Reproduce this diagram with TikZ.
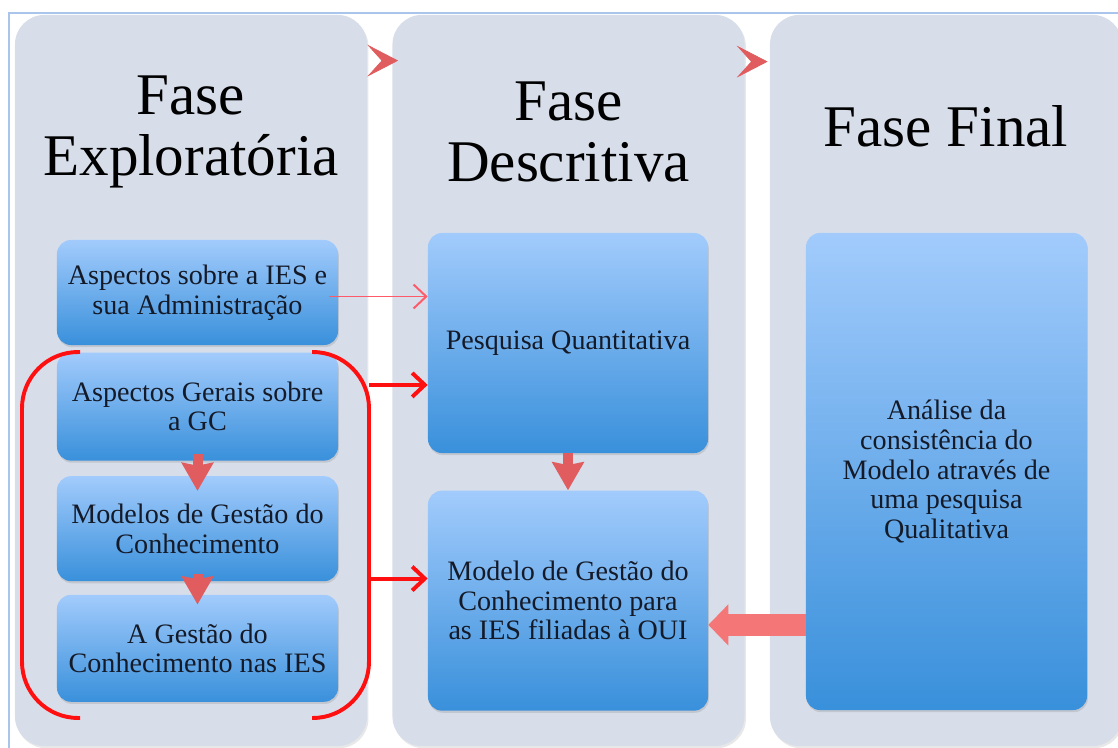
\documentclass[tikz,border=0pt]{standalone}
\usepackage{fontspec}
\setmainfont{Liberation Serif}
\usetikzlibrary{arrows.meta, positioning, calc, shadows}
\definecolor{panelgray}{HTML}{D7DEEA}
\definecolor{boxtop}{HTML}{A2CBFC}
\definecolor{boxbot}{HTML}{3990DB}
\definecolor{frameblue}{HTML}{A9C5EC}
\definecolor{flowred}{HTML}{FF1010}
\definecolor{lightflow}{HTML}{FF5A6A}
\definecolor{softred}{HTML}{E05C5E}
\definecolor{pinkred}{HTML}{F47676}
\definecolor{inktext}{HTML}{141A28}

\begin{document}
\begin{tikzpicture}[x=0.025cm, y=-0.025cm,
  panel/.style={fill=panelgray, rounded corners=21pt, minimum width=8.8cm, minimum height=18.275cm,
                drop shadow={shadow xshift=1pt, shadow yshift=-1.5pt, opacity=0.18}},
  head/.style={font=\fontsize{42}{43.4}\selectfont, align=center},
  box/.style={rounded corners=10pt, top color=boxtop, bottom color=boxbot, align=center, text=inktext,
              font=\fontsize{20}{21}\selectfont, minimum width=7.025cm, inner sep=2pt,
              drop shadow={shadow xshift=0.6pt, shadow yshift=-1.5pt, opacity=0.25}},
  flow/.style={-{Straight Barb[length=9pt, width=17pt]}, line width=2.8pt, draw=flowred},
  thinflow/.style={flow, line width=1.4pt, draw=lightflow},
  bracket/.style={draw=flowred, line width=2.8pt, rounded corners=40pt},
  fat/.style={-{Stealth[length=0.7cm, width=0.78cm, inset=2pt]}, line width=0.25cm, draw=softred},
  chev/.style={-{Stealth[length=0.775cm, width=0.8cm, inset=0.36cm]}, line width=0.5pt, draw=softred},
  bigarrow/.style={-{Triangle[length=0.5cm, width=1.0cm]}, line width=0.55cm, draw=pinkred}]
  \useasboundingbox (0,0) rectangle (1118,748);
  \draw[frameblue, line width=0.8pt] (9,760) -- (9,13) -- (1130,13);

  \node[panel] (explo) at (191,380.5) {};
  \node[panel] (descr) at (568.5,380.5) {};
  \node[panel] (final) at (946,380.5) {};

  \node[head] (explohd) at ($(explo.north)+(0,117)$) {Fase\\Exploratória};
  \node[head] (descrhd) at ($(descr.north)+(0,117)$) {Fase\\Descritiva};
  \node[head] (finalhd) at ($(final.north)+(0,112)$) {Fase Final};

  \node[box, minimum height=2.625cm] (ies) at (197.5,292.5) {Aspectos sobre a IES e\\sua Administração};
  \node[box, minimum height=2.7cm, below=0.175cm of ies] (gerais) {Aspectos Gerais sobre\\a GC};
  \node[box, minimum height=2.625cm, below=0.375cm of gerais] (modelos) {Modelos de Gestão do\\Conhecimento};
  \node[box, minimum height=2.675cm, below=0.325cm of modelos] (nasies) {A Gestão do\\Conhecimento nas IES};
  \node[box, minimum width=7cm, minimum height=5.5cm] (quanti) at (568,343) {Pesquisa Quantitativa};
  \node[box, minimum width=7cm, minimum height=5.5cm, below=0.925cm of quanti] (modelo)
        {Modelo de Gestão do\\Conhecimento para\\as IES filiadas à OUI};
  \node[box, minimum height=11.925cm] (analise) at (946.5,471.5)
        {Análise da\\consistência do\\Modelo através de\\uma pesquisa\\Qualitativa};

  \coordinate (grpnw) at (22,352);
  \coordinate (grpse) at (369,718);
  \draw[bracket] ($(grpnw)+(58,0)$) -- (grpnw) -- (grpnw |- grpse) -- ($(grpnw |- grpse)+(58,0)$);
  \draw[bracket] ($(grpse |- grpnw)+(-57,0)$) -- (grpse |- grpnw) -- (grpse) -- ($(grpse)+(-57,0)$);

  \coordinate (qin) at ($(quanti.south west)!0.31!(quanti.north west)$);
  \coordinate (min) at ($(modelo.south west)!0.6!(modelo.north west)$);
  \coordinate (iesout) at ($(ies.east)+(-9,4)$);
  \coordinate (mfin) at ($(modelo.south east)!0.39!(modelo.north east)$);

  \draw[chev] ($(descr.north west)+(-10,46)$) -- ($(descr.north west)+(6,46)$);
  \draw[chev] ($(final.north west)+(-18,47)$) -- ($(final.north west)+(-2,47)$);
  \draw[thinflow] (iesout) -- (iesout -| quanti.west);
  \draw[flow] (grpse |- qin) -- (qin);
  \draw[flow] (grpse |- min) -- (min);
  \draw[fat] ($(gerais.south)+(0,-7)$) -- ($(modelos.north)+(0,15)$);
  \draw[fat] ($(modelos.south)+(0,-7)$) -- ($(nasies.north)+(0,10)$);
  \draw[fat] (quanti.south) -- (modelo.north);
  \draw[bigarrow] (mfin -| analise.west) -- (mfin);
\end{tikzpicture}
\end{document}
